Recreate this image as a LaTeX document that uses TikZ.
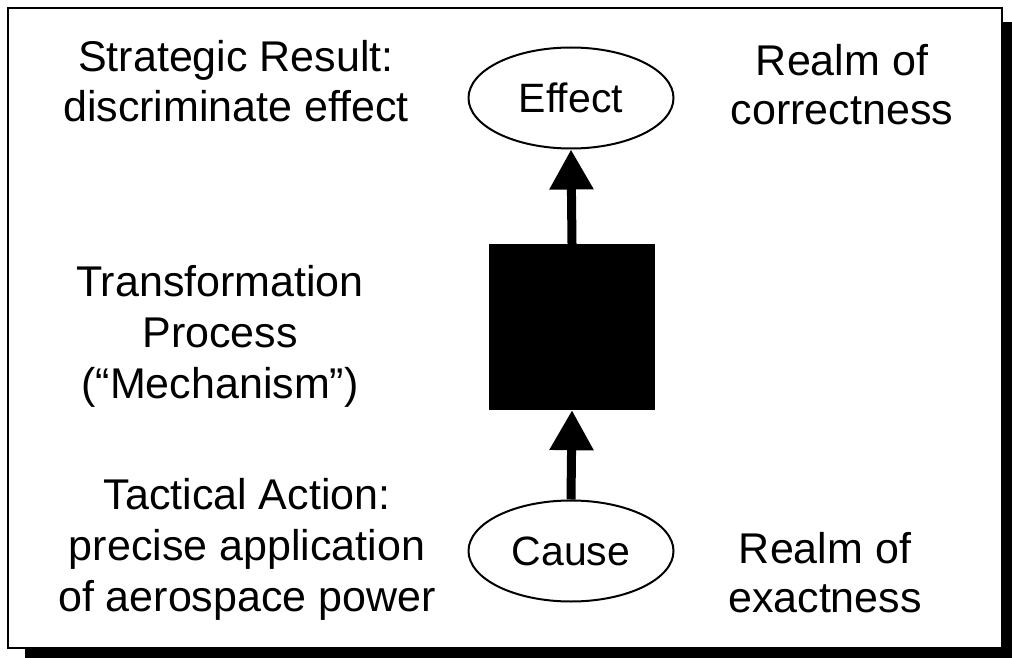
\documentclass[tikz,border=0pt]{standalone}
\usepackage{fontspec}
\setmainfont{Liberation Sans}
\usetikzlibrary{arrows.meta,shapes.geometric}

\tikzset{
  label text/.style={align=center, inner sep=0pt, anchor=base,
    font=\fontsize{43}{50}\selectfont},
  oval/.style={ellipse, draw, line width=2pt, fill=white,
    minimum width=205pt, minimum height=101pt, inner sep=0pt,
    font=\fontsize{41}{45}\selectfont},
  block/.style={rectangle, fill=black, draw=none,
    minimum width=166pt, minimum height=166pt, inner sep=0pt},
  flow/.style={line width=9pt,
    -{Triangle[length=40pt,width=42pt]}},
}

\begin{document}
\begin{tikzpicture}[x=1pt, y=-1pt]
  % page extent
  \useasboundingbox (0,0) rectangle (1012,658);

  % framed panel with drop shadow
  \fill[black] (25,22) rectangle (1012,658);
  \draw[line width=2pt, fill=white] (8,8) rectangle (1002,648);

  % central chain
  \node[oval]  (effect) at (571,98)  {Effect};
  \node[block] (mech)   at (572,327) {};
  \node[oval]  (cause)  at (571,551) {Cause};

  \draw[flow] (mech.north)  -- (effect.south);
  \draw[flow] (cause.north) -- (mech.south);

  % side labels (anchored at the baseline of the last line)
  \node[label text, font=\fontsize{43}{50}\selectfont] (strategic) at (236,122)
    {Strategic Result:\\discriminate effect};
  \node[label text, font=\fontsize{43}{49}\selectfont] (correct) at (842,125)
    {Realm of\\correctness};
  \node[label text, font=\fontsize{43}{51}\selectfont] (transform) at (220,398)
    {Transformation\\Process\\(“Mechanism”)};
  \node[label text, font=\fontsize{43}{51}\selectfont] (tactical) at (247,611)
    {Tactical Action:\\precise application\\of aerospace power};
  \node[label text, font=\fontsize{43}{49}\selectfont] (exact) at (825,612)
    {Realm of\\exactness};
\end{tikzpicture}
\end{document}
